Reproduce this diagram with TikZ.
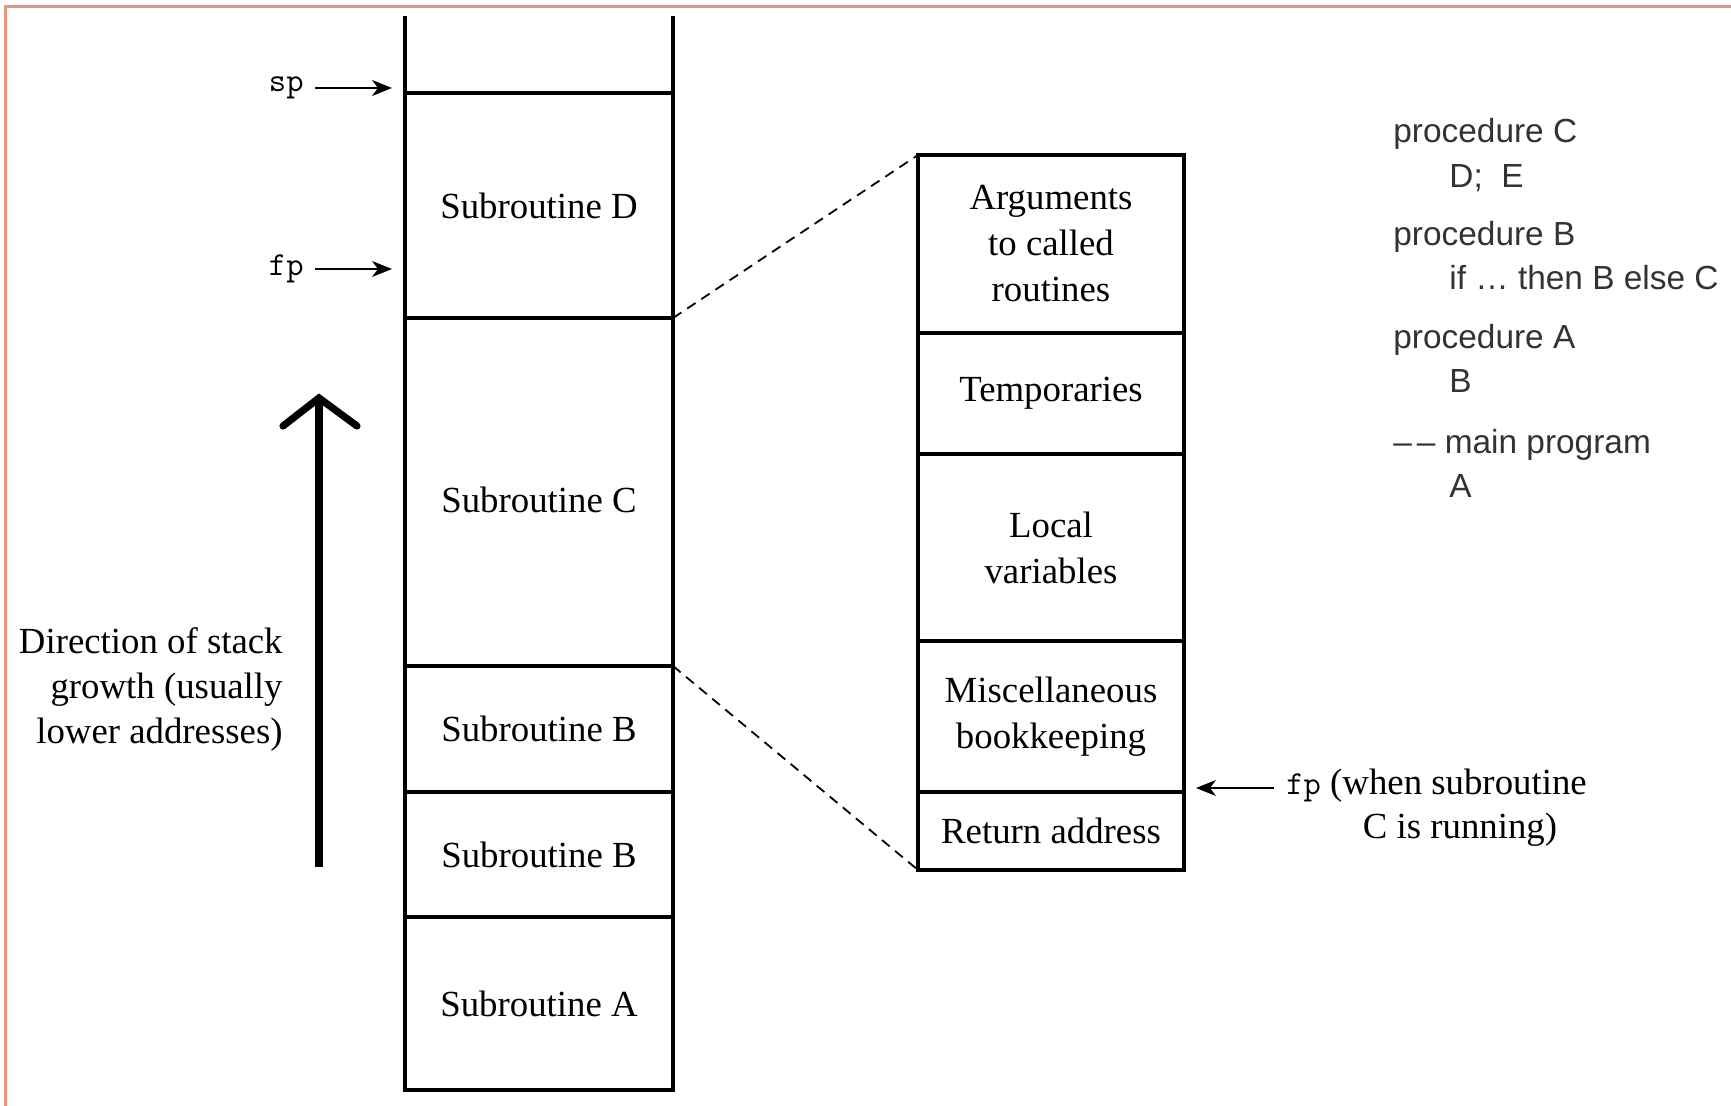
\documentclass[tikz,border=0pt]{standalone}
\usepackage{fontspec}
\setmainfont{Liberation Serif}
\newfontfamily\codefont{Liberation Sans}
\usetikzlibrary{arrows.meta}
\definecolor{frameorange}{HTML}{E8957C}
\newcommand{\labfont}{\fontsize{18.4}{23}\selectfont}
\newcommand{\monofont}{\fontsize{16.8}{23}\selectfont\fontspec{Latin Modern Mono}}
\tikzset{
  stackbox/.style={draw, line width=1.9pt, minimum width=134pt, inner sep=0pt, outer sep=0pt, font=\labfont, align=center},
  framebox/.style={draw, line width=1.9pt, minimum width=133pt, inner sep=0pt, outer sep=0pt, font=\labfont, align=center},
  zoomline/.style={line width=0.9pt, dash pattern=on 5pt off 3.5pt},
  ptrarrow/.style={line width=0.8pt, -{Stealth[length=10pt,width=8pt,inset=3pt]}},
  codeline/.style={anchor=base west, inner sep=0pt, text=black!80, font=\fontsize{16.7}{18}\codefont},
  growline/.style={line width=3.6pt}
}
\begin{document}
\begin{tikzpicture}[x=0.5pt,y=-0.5pt]
\useasboundingbox (0,0) rectangle (1731,1106);
% frame
\draw[frameorange, line width=1.2pt] (5.5,1106) -- (5.5,6.6) -- (1731,6.6);

% stack
\coordinate (stl) at (405,16.5);
\coordinate (str) at (673,16.5);
\node[stackbox, minimum height=112.5pt] (D) at (539,205.5) {Subroutine D};
\node[stackbox, minimum height=174pt] (C) at (539,492) {};
\node[font=\labfont, inner sep=0pt] (Clab) at (539,500) {Subroutine C};
\node[stackbox, minimum height=63pt] (B1) at (539,729) {Subroutine B};
\node[stackbox, minimum height=62.5pt] (B2) at (539,854.5) {Subroutine B};
\node[stackbox, minimum height=86.5pt] (A) at (539,1003.5) {Subroutine A};
\draw[line width=1.9pt] (stl) -- (D.north west);
\draw[line width=1.9pt] (str) -- (D.north east);

% frame detail
\node[framebox, minimum height=89pt] (args) at (1051,244) {Arguments\\to called\\routines};
\node[framebox, minimum height=60.5pt] (temp) at (1051,393.5) {Temporaries};
\node[framebox, minimum height=93.5pt] (local) at (1051,547.5) {Local\\variables};
\node[framebox, minimum height=75.5pt] (misc) at (1051,716.5) {Miscellaneous\\bookkeeping};
\node[framebox, minimum height=39pt] (ret) at (1051,831) {Return address};

\draw[zoomline] (D.south east) -- (args.north west);
\draw[zoomline] (C.south east) -- (ret.south west);

% sp / fp pointers
\node[anchor=east, inner sep=0pt, font=\monofont] (sp) at (304,88) {sp};
\coordinate (spend) at (392,88);
\draw[ptrarrow, shorten <=5.5pt] (sp.east) -- (spend);
\node[anchor=east, inner sep=0pt, font=\monofont] (fp) at (304,269) {fp};
\coordinate (fpend) at (392,269);
\draw[ptrarrow, shorten <=5.5pt] (fp.east) -- (fpend);

% fp when C running
\node[anchor=west, inner sep=0pt, font=\labfont] (fpr) at (1286,786) {{\monofont fp} (when subroutine};
\node[inner sep=0pt, font=\labfont] (fpr2) at (1460,830) {C is running)};
\coordinate (fprend) at (1196,788);
\draw[ptrarrow, shorten <=6pt] (fpr.west |- fprend) -- (fprend);

% growth arrow
\coordinate (gbot) at (319,867);
\coordinate (gtip) at (319,398);
\coordinate (gl) at (283,426);
\coordinate (gr) at (357,426);
\draw[growline] (gbot) -- (gtip);
\draw[growline, line join=miter, line cap=round] (gl) -- (gtip) -- (gr);
\node[anchor=east, inner sep=0pt, align=right, font=\fontsize{18.4}{22.5}\selectfont] (dir) at (283,689) {Direction of stack\\growth (usually\\lower addresses)};

% code
\node[codeline] (c1) at (1393,143) {procedure C};
\node[codeline] (c2) at (1449,188) {D;\ \ E};
\node[codeline] (c3) at (1393,246) {procedure B};
\node[codeline] (c4) at (1449,290) {if … then B else C};
\node[codeline] (c5) at (1393,349) {procedure A};
\node[codeline] (c6) at (1449,393) {B};
\node[codeline] (c7) at (1393,454) {\textendash\kern2.5pt\textendash\ main program};
\node[codeline] (c8) at (1449,498) {A};
\end{tikzpicture}
\end{document}
